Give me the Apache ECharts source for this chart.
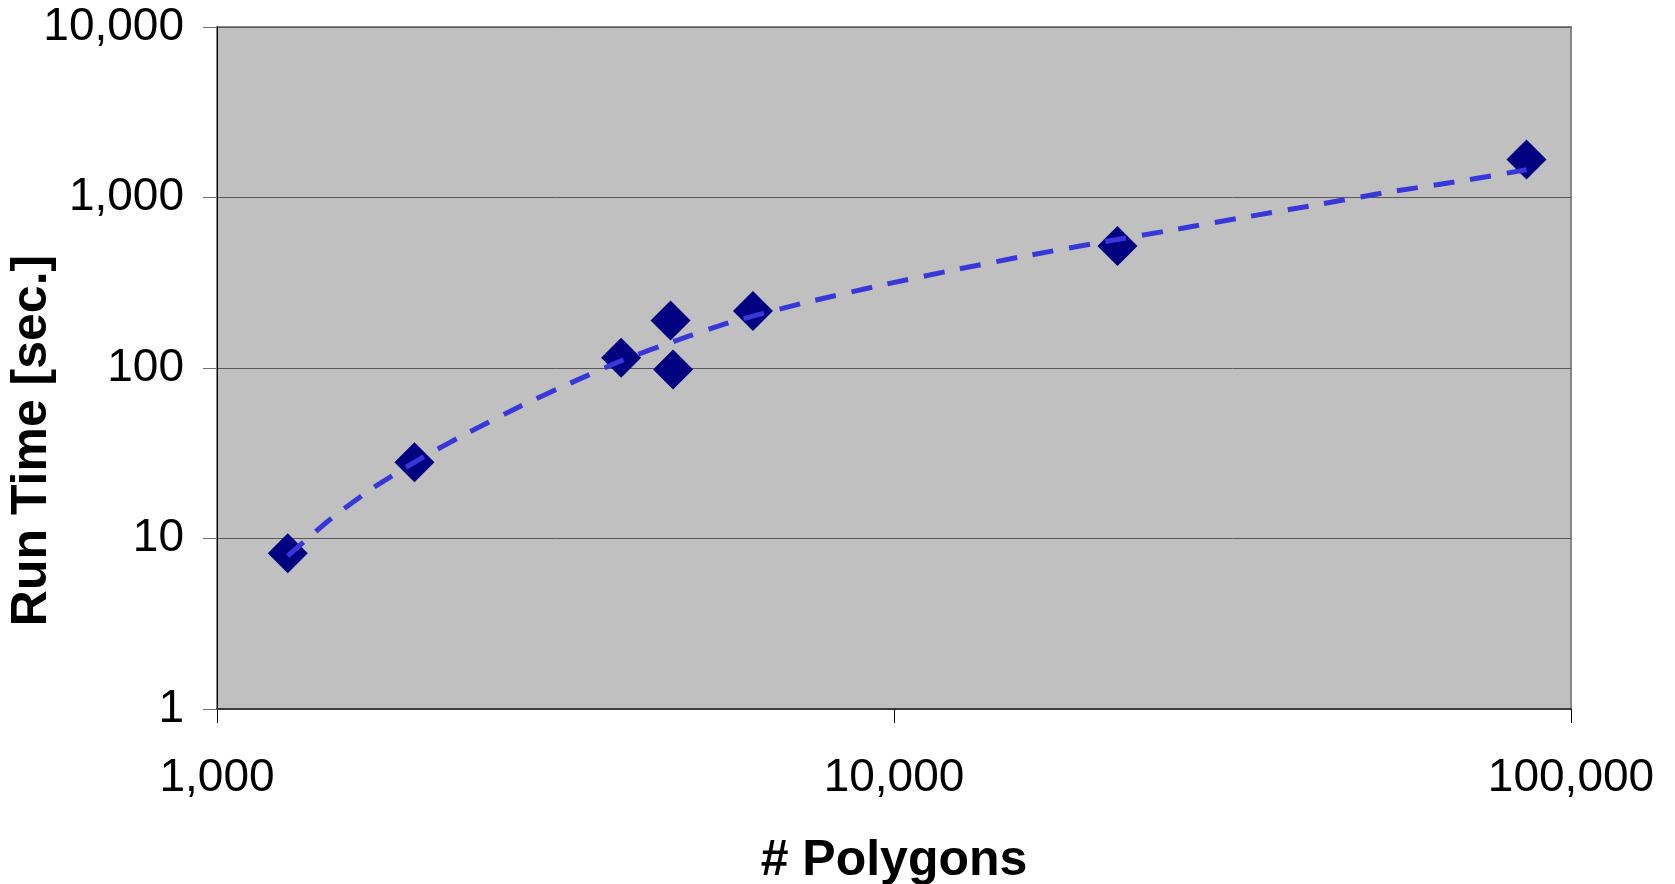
<!DOCTYPE html>
<html>
<head>
<meta charset="utf-8">
<script src="https://cdn.jsdelivr.net/npm/echarts@6/dist/echarts.min.js"></script>
<style>
  html, body { margin: 0; padding: 0; background: #ffffff; }
  #chart { width: 1675px; height: 884px; }
</style>
</head>
<body>
<div id="chart"></div>
<script>
// Measured run times per polygon count
const polygons = [1272, 1957, 3953, 4677, 4717, 6189, 21380, 85960];
const runTime  = [8.2, 28.0, 115, 190, 98, 216, 519, 1668];

// Fitted trend curve, sampled along its length
const trendPolygons = [1272, 1464, 1693, 2007, 2359, 2810, 3313, 3972, 4722, 5702, 7300,
                       9333, 11980, 15370, 19720, 25260, 32470, 41700, 53530, 68900, 85960];
const trendRunTime  = [7.9, 12.8, 19.6, 29.7, 42.1, 59.9, 81.0, 111, 143, 184, 239,
                       299, 369, 448, 537, 636, 758, 900, 1073, 1250, 1456];

const xTitle = '# Polygons';
const yTitle = 'Run Time [sec.]';

const fmt = v => Math.round(v).toLocaleString('en-US');
const pairs = (xs, ys) => xs.map((x, i) => [x, ys[i]]);

const chart = echarts.init(document.getElementById('chart'), null, { renderer: 'canvas' });
chart.setOption({
  animation: false,
  backgroundColor: '#ffffff',
  textStyle: { fontFamily: 'Liberation Sans, Arial, sans-serif' },
  grid: {
    left: 217, top: 27, right: 104, bottom: 175,
    outerBoundsMode: 'none',
    containLabel: false,
    show: true, backgroundColor: '#c0c0c0', borderColor: '#868686', borderWidth: 2
  },
  xAxis: {
    type: 'log', logBase: 10, min: 1000, max: 100000,
    name: xTitle, nameLocation: 'middle', nameGap: 127, nameMoveOverlap: false,
    nameTextStyle: { fontSize: 50, fontWeight: 'bold', color: '#000', fontFamily: 'Liberation Sans' },
    axisLine: { show: true, lineStyle: { color: '#3c3c3c', width: 2 } },
    axisTick: { show: true, length: 14, lineStyle: { color: '#000', width: 1 } },
    axisLabel: { fontSize: 46, color: '#000', margin: 46, formatter: fmt, fontFamily: 'Liberation Sans' },
    splitLine: { show: false },
    minorTick: { show: false }
  },
  yAxis: {
    type: 'log', logBase: 10, min: 1, max: 10000,
    name: yTitle, nameLocation: 'middle', nameGap: 160, nameRotate: 90, nameMoveOverlap: false,
    nameTextStyle: {
      fontSize: 50, fontWeight: 'bold', color: '#000', fontFamily: 'Liberation Sans',
      padding: [0, 145, 0, 0]
    },
    axisLine: { show: true, lineStyle: { color: '#000', width: 1 } },
    axisTick: { show: true, length: 14, lineStyle: { color: '#707070', width: 1 } },
    axisLabel: { fontSize: 46, color: '#000', margin: 33, formatter: fmt, fontFamily: 'Liberation Sans' },
    splitLine: { show: true, lineStyle: { color: '#585858', width: 1 } }
  },
  series: [
    {
      type: 'scatter',
      data: pairs(polygons, runTime),
      symbol: 'diamond',
      symbolSize: 40,
      itemStyle: { color: '#000080', opacity: 1 },
      z: 2
    },
    {
      type: 'line',
      data: pairs(trendPolygons, trendRunTime),
      showSymbol: false,
      symbol: 'none',
      smooth: 0.2,
      lineStyle: { color: '#3838d8', width: 5, type: [21, 16] },
      z: 3
    }
  ]
});
</script>
</body>
</html>
